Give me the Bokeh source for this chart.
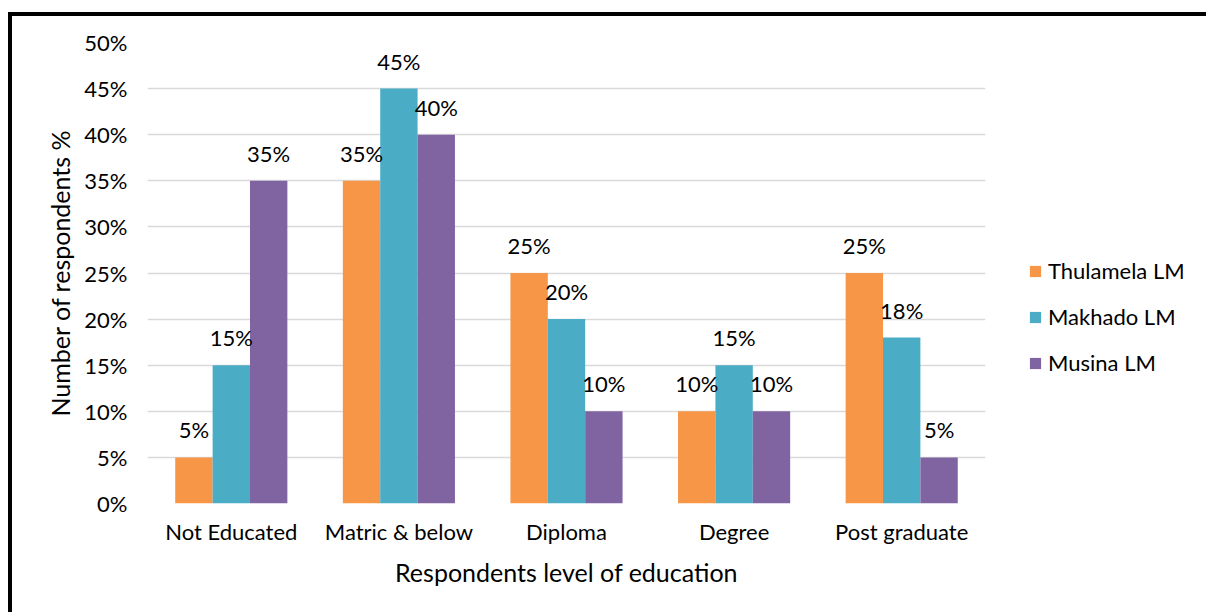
from bokeh.plotting import figure
from bokeh.models import (ColumnDataSource, FactorRange, Range1d, FixedTicker,
                          PrintfTickFormatter, Legend, LegendItem, LabelSet)
from bokeh.core.properties import value
from bokeh.transform import dodge
from bokeh.embed import file_html
from bokeh.resources import INLINE

# Education levels and the share of respondents in each municipality (%)
categories = ["Not Educated", "Matric & below", "Diploma", "Degree", "Post graduate"]
series_names = ["Thulamela LM", "Makhado LM", "Musina LM"]
thulamela = [5, 35, 25, 10, 25]
makhado = [15, 45, 20, 15, 18]
musina = [35, 40, 10, 10, 5]
y_ticks = [0, 5, 10, 15, 20, 25, 30, 35, 40, 45, 50]

colors = ["#F79646", "#4BACC6", "#8064A2"]
FONT = "Lato"
TICK_SIZE = "22px"
TITLE_SIZE = "25px"
BAR_W = 0.223

source = ColumnDataSource(dict(
    cat=categories,
    thulamela=thulamela,
    makhado=makhado,
    musina=musina,
    thulamela_lbl=[f"{v}%" for v in thulamela],
    makhado_lbl=[f"{v}%" for v in makhado],
    musina_lbl=[f"{v}%" for v in musina],
))

p = figure(
    x_range=FactorRange(*categories, range_padding=0),
    y_range=Range1d(0, 50),
    frame_width=838, frame_height=461,
    output_backend="svg", toolbar_location=None,
    min_border_left=135, min_border_top=26,
    min_border_right=221, min_border_bottom=109,
)
p.styles = {
    "margin-left": "8px", "margin-top": "12px",
    "border-left": "4px solid black", "border-top": "4px solid black",
}
p.outline_line_color = None
p.background_fill_color = "white"
p.border_fill_color = "white"

fields = ["thulamela", "makhado", "musina"]
offsets = [-BAR_W, 0.0, BAR_W]
renderers = []
for field, off, col in zip(fields, offsets, colors):
    r = p.vbar(x=dodge("cat", off, range=p.x_range), top=field, width=BAR_W,
               source=source, fill_color=col, line_color=None)
    renderers.append(r)
    p.add_layout(LabelSet(
        x=dodge("cat", off, range=p.x_range), y=field, text=field + "_lbl",
        source=source, text_align="center", text_baseline="bottom",
        y_offset=14, text_font=value(FONT), text_font_size=value(TICK_SIZE),
        text_color="#000000",
    ))

# axes
p.yaxis.ticker = FixedTicker(ticks=y_ticks)
p.yaxis.formatter = PrintfTickFormatter(format="%d%%")
for ax in (p.xaxis[0], p.yaxis[0]):
    ax.axis_line_color = None
    ax.major_tick_line_color = None
    ax.minor_tick_line_color = None
    ax.major_label_text_font = FONT
    ax.major_label_text_font_size = TICK_SIZE
    ax.major_label_text_color = "#000000"
    ax.axis_label_text_font = FONT
    ax.axis_label_text_font_size = TITLE_SIZE
    ax.axis_label_text_font_style = "normal"
    ax.axis_label_text_color = "#000000"

p.yaxis.major_label_standoff = 14
p.yaxis.axis_label = "Number of respondents %"
p.yaxis.axis_label_standoff = 6
p.xaxis.major_label_standoff = 8
p.xaxis.axis_label = "Respondents level of education"
p.xaxis.axis_label_standoff = 9

p.xgrid.grid_line_color = None
p.ygrid.grid_line_color = "#D9D9D9"
p.ygrid.grid_line_width = 1.5
p.ygrid.ticker = FixedTicker(ticks=y_ticks)

legend = Legend(
    items=[LegendItem(label=n, renderers=[r]) for n, r in zip(series_names, renderers)],
    location=(43, 127),
    orientation="vertical",
    label_text_font=FONT, label_text_font_size=TICK_SIZE, label_text_color="#000000",
    glyph_width=14, glyph_height=14, label_standoff=6, spacing=19,
    label_height=26,
    border_line_color=None, background_fill_alpha=0, padding=0, margin=0,
)
p.add_layout(legend, "right")

open("out.html", "w").write(file_html(p, INLINE))
